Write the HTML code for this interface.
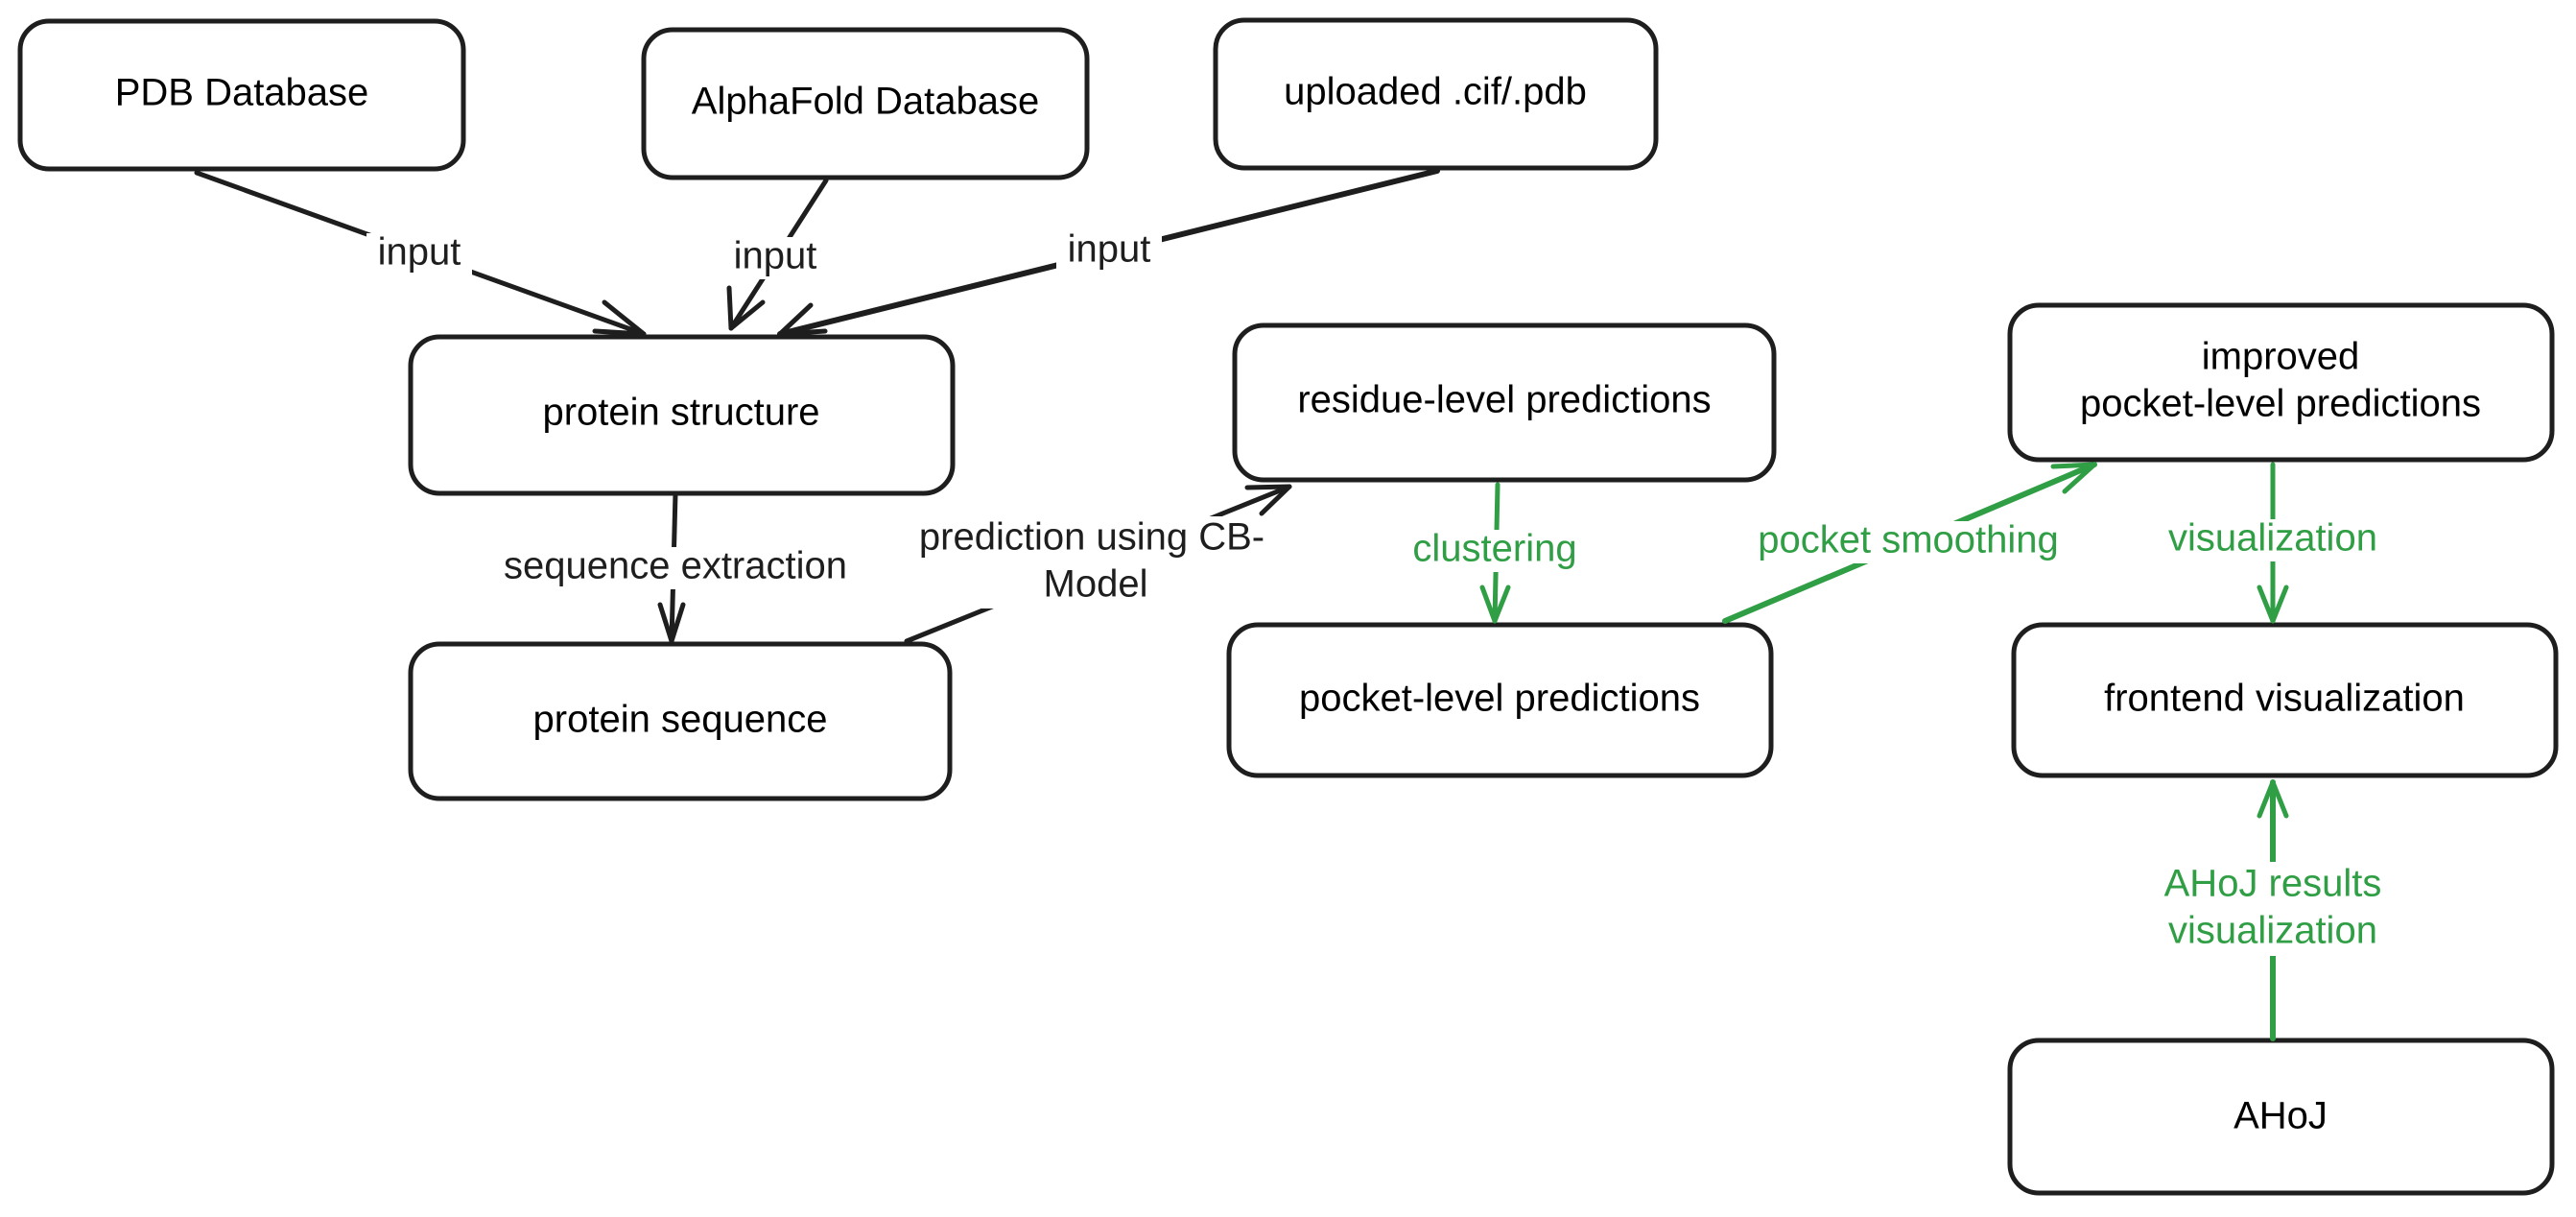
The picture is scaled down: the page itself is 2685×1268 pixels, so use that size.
<!DOCTYPE html>
<html><head><meta charset="utf-8"><style>
html,body{margin:0;padding:0;background:#fff;}
svg{display:block;}
text{font-family:"Liberation Sans",sans-serif;font-size:40px;text-anchor:middle;dominant-baseline:middle;}
.b{fill:#fff;stroke:#1e1e1e;stroke-width:5;}
.l{stroke:#1e1e1e;stroke-width:5;fill:none;stroke-linecap:round;stroke-linejoin:round;}
.g{stroke:#2f9e44;stroke-width:5;fill:none;stroke-linecap:round;stroke-linejoin:round;}
.lb{fill:#1e1e1e;}
.gt{fill:#2f9e44;}
</style></head><body>
<svg width="2685" height="1268" viewBox="0 0 2685 1268" xmlns="http://www.w3.org/2000/svg">
<rect class="b" x="21" y="22" width="462" height="154" rx="30"/>
<rect class="b" x="671" y="31" width="462" height="154" rx="30"/>
<rect class="b" x="1267" y="21" width="459" height="154" rx="30"/>
<rect class="b" x="428" y="351" width="565" height="163" rx="30"/>
<rect class="b" x="1287" y="339" width="562" height="161" rx="30"/>
<rect class="b" x="2095" y="318" width="565" height="161" rx="30"/>
<rect class="b" x="428" y="671" width="562" height="161" rx="30"/>
<rect class="b" x="1281" y="651" width="565" height="157" rx="30"/>
<rect class="b" x="2099" y="651" width="565" height="157" rx="30"/>
<rect class="b" x="2095" y="1084" width="565" height="159" rx="30"/>
<text x="252" y="99">PDB Database</text>
<text x="902" y="108">AlphaFold Database</text>
<text x="1496" y="98">uploaded .cif/.pdb</text>
<text x="710" y="432">protein structure</text>
<text x="1568" y="419">residue-level predictions</text>
<text x="2377" y="374">improved</text>
<text x="2377" y="423">pocket-level predictions</text>
<text x="709" y="752">protein sequence</text>
<text x="1563" y="730">pocket-level predictions</text>
<text x="2381" y="730">frontend visualization</text>
<text x="2377" y="1165">AHoJ</text>
<line class="l" x1="205" y1="180" x2="671" y2="348"/>
<path class="l" d="M630,315 L671,348 L620,345"/>
<line class="l" x1="861" y1="188" x2="762" y2="342"/>
<path class="l" d="M760,300 L762,342 L795,315"/>
<line class="l" x1="1498" y1="178" x2="813" y2="348" style="stroke-width:6"/>
<path class="l" d="M845,318 L813,348 L860,345"/>
<line class="l" x1="704" y1="514" x2="700" y2="668"/>
<path class="l" d="M688,630 L700,668 L712,630"/>
<line class="l" x1="945" y1="668" x2="1344" y2="507"/>
<path class="l" d="M1300,508 L1344,507 L1315,535"/>
<line class="g" x1="1561" y1="505" x2="1558" y2="647"/>
<path class="g" d="M1545,612 L1558,647 L1572,612"/>
<line class="g" x1="1798" y1="647" x2="2183" y2="484" style="stroke-width:6"/>
<path class="g" d="M2140,486 L2183,484 L2152,512"/>
<line class="g" x1="2369" y1="484" x2="2369" y2="647"/>
<path class="g" d="M2355,612 L2369,647 L2383,612"/>
<line class="g" x1="2369" y1="1082" x2="2369" y2="815" style="stroke-width:6"/>
<path class="g" d="M2355,850 L2369,815 L2383,850"/>
<rect x="382" y="243" width="110" height="44" fill="#fff"/>
<text class="lb" x="437" y="265">input</text>
<rect x="753" y="247" width="110" height="44" fill="#fff"/>
<text class="lb" x="808" y="269">input</text>
<rect x="1101" y="240" width="110" height="44" fill="#fff"/>
<text class="lb" x="1156" y="262">input</text>
<rect x="505" y="570" width="400" height="44" fill="#fff"/>
<text class="lb" x="704" y="592">sequence extraction</text>
<rect x="950" y="538" width="380" height="96" fill="#fff"/>
<text class="lb" x="1138" y="562">prediction using CB-</text>
<text class="lb" x="1142" y="611">Model</text>
<rect x="1465" y="552" width="186" height="44" fill="#fff"/>
<text class="gt" x="1558" y="574">clustering</text>
<rect x="1820" y="543" width="338" height="44" fill="#fff"/>
<text class="gt" x="1989" y="565">pocket smoothing</text>
<rect x="2247" y="541" width="244" height="44" fill="#fff"/>
<text class="gt" x="2369" y="563">visualization</text>
<rect x="2247" y="898" width="244" height="98" fill="#fff"/>
<text class="gt" x="2369" y="923">AHoJ results</text>
<text class="gt" x="2369" y="972">visualization</text>
</svg>
</body></html>
